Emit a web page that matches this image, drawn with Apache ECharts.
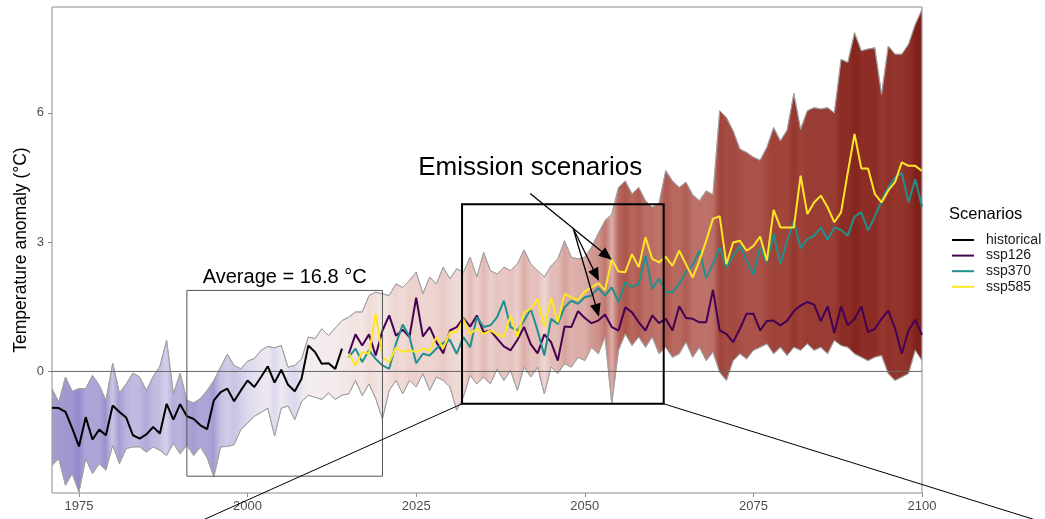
<!DOCTYPE html>
<html><head><meta charset="utf-8">
<script src="https://cdn.jsdelivr.net/npm/echarts@6/dist/echarts.min.js"></script>
<style>html,body{margin:0;padding:0;background:#fff}#c{width:1045px;height:519px}</style>
</head><body><div id="c"></div>
<script>
// ---------- DATA ----------
const histYears = []; for (let y = 1971; y <= 2014; y++) histYears.push(y);
const futureYears = []; for (let y = 2015; y <= 2100; y++) futureYears.push(y);
const allYears = histYears.concat(futureYears);

const historical = [-0.84,-0.85,-0.94,-1.32,-1.74,-1.06,-1.58,-1.35,-1.48,-0.79,
  -0.94,-1.07,-1.48,-1.56,-1.46,-1.29,-1.44,-0.75,-1.12,-0.76,
  -1.04,-1.10,-1.25,-1.34,-0.67,-0.48,-0.40,-0.69,-0.44,-0.21,
  -0.36,-0.13,0.12,-0.26,0.04,-0.31,-0.46,-0.17,0.60,0.45,
  0.18,0.19,0.06,0.53];

const ssp126 = [0.41,0.86,0.60,0.86,0.37,0.95,1.30,0.83,0.97,0.80,
  1.71,0.81,1.03,0.68,0.42,0.95,1.03,1.24,1.04,1.30,
  0.91,0.95,0.76,0.58,0.49,0.73,1.03,0.63,0.42,0.86,
  0.68,0.25,1.04,1.03,1.40,1.24,1.12,1.18,1.32,
  1.03,0.95,1.49,1.37,1.14,0.95,1.30,1.12,1.22,0.95,
  1.51,1.24,1.22,1.14,1.14,1.89,0.95,0.87,0.68,0.99,
  1.34,1.34,0.95,1.17,1.18,1.07,1.18,1.40,1.53,1.61,
  1.55,1.17,1.51,0.89,1.51,1.07,1.22,1.51,0.91,0.99,
  1.22,1.41,1.00,0.41,0.95,1.20,0.85];

const ssp370 = [0.33,0.53,0.22,0.49,0.29,0.14,0.06,0.64,1.09,0.81,
  0.19,0.41,0.37,0.53,0.66,0.73,0.41,0.80,0.56,1.26,
  1.03,1.07,1.26,1.64,1.03,0.95,1.18,1.45,0.95,0.37,
  1.22,1.10,1.49,1.64,1.57,1.72,1.76,1.94,1.76,
  1.95,1.61,2.07,1.96,2.03,2.69,1.92,2.15,1.84,1.84,
  2.03,2.30,2.46,2.80,2.16,2.49,2.88,2.41,2.68,2.92,
  2.57,2.25,2.88,2.53,3.19,2.49,3.03,3.49,2.86,3.07,
  3.15,3.34,3.06,3.34,3.28,3.15,3.59,3.69,3.27,3.59,
  3.96,4.27,4.50,4.60,3.92,4.46,3.82];

const ssp585 = [0.41,0.14,0.45,0.41,1.34,0.33,0.22,0.56,0.45,0.49,
  0.45,0.53,0.47,0.80,0.53,0.91,0.91,1.22,0.87,0.99,
  0.87,0.95,0.86,0.80,1.30,0.80,1.37,1.45,1.68,1.03,
  1.71,1.14,1.80,1.72,1.66,1.85,1.95,2.05,1.88,
  2.60,2.32,2.30,2.72,2.42,3.11,2.61,2.53,2.66,2.45,
  2.80,2.49,2.18,2.57,3.03,3.54,3.60,2.49,2.99,3.03,
  2.80,2.91,3.13,2.57,3.75,3.34,3.34,3.34,4.54,3.65,
  3.92,4.08,3.81,3.46,3.69,4.62,5.51,4.71,4.71,4.12,
  3.92,4.20,4.39,4.85,4.77,4.77,4.65];

const bandHigh = [-0.40,-0.71,-0.13,-0.46,-0.40,-0.40,-0.09,-0.32,-0.67,0.19,
  -0.50,-0.29,-0.04,-0.13,-0.44,-0.12,0.12,0.72,-0.52,-0.04,
  -0.67,-0.73,-0.63,-0.44,-0.21,0.10,0.40,0.14,0.06,0.24,
  0.30,0.49,0.58,0.55,0.60,0.10,0.14,0.29,0.80,0.76,
  0.99,0.83,1.01,1.18,
  1.26,1.38,1.38,1.76,1.84,1.80,1.76,2.03,1.95,2.11,
  2.30,1.80,2.19,2.03,2.42,2.15,2.38,2.30,2.65,2.19,
  2.76,2.34,2.26,2.42,2.34,2.49,2.82,2.49,2.34,2.19,
  2.45,2.61,3.03,2.65,2.61,2.65,2.88,3.20,3.50,
  3.65,4.27,4.42,4.12,4.27,3.96,3.81,3.90,4.66,4.42,
  4.27,4.39,4.10,3.96,4.19,4.10,6.05,5.89,5.58,5.16,
  5.08,4.97,4.90,5.20,5.66,5.35,5.60,6.45,5.62,6.05,
  6.12,6.09,6.12,6.00,7.24,7.17,7.86,7.44,7.48,7.51,
  6.43,7.55,7.36,7.36,7.59,8.05,8.40];

const bandLow = [-2.18,-2.02,-2.64,-2.37,-2.80,-2.02,-2.37,-2.14,-2.29,-1.71,
  -2.14,-1.79,-1.75,-1.75,-1.87,-1.75,-1.83,-1.95,-1.67,-1.91,
  -1.71,-1.95,-1.75,-2.00,-2.45,-1.75,-1.74,-1.70,-1.35,-1.20,
  -1.04,-0.95,-0.85,-1.50,-0.85,-0.80,-1.12,-0.70,-0.55,-0.60,
  -0.65,-0.50,-0.65,-0.55,
  -0.52,-0.21,-0.56,-0.29,-0.63,-1.10,-0.44,-0.21,-0.52,-0.21,
  -0.36,-0.05,-0.44,-0.13,-0.21,-0.36,-0.90,-0.59,-0.09,-0.29,
  -0.13,-0.29,0.06,-0.21,0.02,-0.44,0.10,-0.13,0.10,-0.52,
  0.10,-0.05,0.18,0.10,0.33,0.25,0.56,0.41,0.80,
  -0.75,0.49,0.87,0.60,0.80,0.56,0.80,0.41,0.56,0.33,
  0.41,0.68,0.33,0.56,0.25,0.45,-0.02,-0.21,0.25,0.41,
  0.29,0.49,0.56,0.64,0.41,0.56,0.37,0.56,0.49,0.64,
  0.49,0.56,0.41,0.72,0.60,0.56,0.41,0.33,0.25,0.33,
  0.37,-0.05,-0.21,-0.13,-0.05,0.49,0.25];

const xTicks = [1975, 2000, 2025, 2050, 2075, 2100];
const yTicks = [0, 3, 6];
const seriesNames = ['historical', 'ssp126', 'ssp370', 'ssp585'];

// ---------- STYLE ----------
const seriesColors = { historical: '#000000', ssp126: '#440154', ssp370: '#21908C', ssp585: '#FDE725' };
const FONT = '"Liberation Sans", Arial, Helvetica, sans-serif';
const fillScale = [[-1.6,[148,136,202]],[-0.5,[220,216,238]],[0,[244,239,241]],[0.5,[243,228,226]],
  [1.0,[236,208,204]],[1.5,[218,170,164]],[2.0,[198,130,122]],[2.5,[178,94,85]],[3.0,[160,68,58]],
  [4.0,[138,42,35]],[4.4,[124,28,24]]];
function fillColor(m) {
  if (m <= fillScale[0][0]) return 'rgb(' + fillScale[0][1].join(',') + ')';
  for (let i = 1; i < fillScale.length; i++) {
    if (m <= fillScale[i][0]) {
      const a = fillScale[i-1], b = fillScale[i];
      const t = (m - a[0]) / (b[0] - a[0]);
      const c = a[1].map((v, k) => Math.round(v + (b[1][k] - v) * t));
      return 'rgb(' + c.join(',') + ')';
    }
  }
  return 'rgb(' + fillScale[fillScale.length-1][1].join(',') + ')';
}

const chart = echarts.init(document.getElementById('c'), null, { renderer: 'canvas' });

function lineSeries(name, years, vals) {
  return {
    type: 'line', name: name, data: years.map((y, i) => [y, vals[i]]),
    showSymbol: false, symbol: 'none', z: 3, silent: true,
    lineStyle: { color: seriesColors[name], width: 2 }, itemStyle: { color: seriesColors[name] }
  };
}

const option = {
  animation: false,
  backgroundColor: '#ffffff',
  grid: { left: 52, right: 123, top: 7, bottom: 26, show: true, borderColor: '#8c8c8c', borderWidth: 1,
          containLabel: false, outerBoundsMode: 'none' },
  xAxis: {
    type: 'value', min: 1971, max: 2100,
    axisLine: { show: false, onZero: false }, splitLine: { show: false },
    axisTick: { show: true, length: 4, lineStyle: { color: '#8c8c8c' }, customValues: xTicks },
    axisLabel: { customValues: xTicks, color: '#4d4d4d', fontSize: 13, fontFamily: FONT, margin: 7,
                 formatter: v => String(v) }
  },
  yAxis: {
    type: 'value', min: -2.82, max: 8.455,
    axisLine: { show: false, onZero: false }, splitLine: { show: false },
    axisTick: { show: true, length: 4, lineStyle: { color: '#8c8c8c' }, customValues: yTicks },
    axisLabel: { customValues: yTicks, color: '#4d4d4d', fontSize: 13, fontFamily: FONT, margin: 8,
                 formatter: v => String(v) }
  },
  series: [
    {
      type: 'custom', name: 'band', z: 1, clip: true, silent: true,
      data: [[allYears[0], 0]],
      renderItem: function (params, api) {
        const pts = [];
        for (let i = 0; i < allYears.length; i++) pts.push(api.coord([allYears[i], bandHigh[i]]));
        for (let i = allYears.length - 1; i >= 0; i--) pts.push(api.coord([allYears[i], bandLow[i]]));
        const y0 = allYears[0], y1 = allYears[allYears.length - 1];
        const stops = allYears.map((y, i) => ({ offset: (y - y0) / (y1 - y0), color: fillColor((bandLow[i] + bandHigh[i]) / 2) }));
        return { type: 'polygon', shape: { points: pts },
          style: { fill: new echarts.graphic.LinearGradient(0, 0, 1, 0, stops), stroke: 'rgba(160,160,160,0.9)', lineWidth: 1 } };
      }
    },
    { type: 'line', name: 'zero', data: [[1971, 0], [2100, 0]], showSymbol: false, symbol: 'none', z: 2, silent: true,
      lineStyle: { color: '#666666', width: 1 } },
    lineSeries('historical', histYears, historical),
    lineSeries('ssp126', futureYears, ssp126),
    lineSeries('ssp370', futureYears, ssp370),
    lineSeries('ssp585', futureYears, ssp585)
  ]
};
chart.setOption(option);

// ---------- ANNOTATIONS (positions in data units) ----------
const anno = {
  avgBox: [[1991, 1.88], [2020, -2.43]],
  zoomBox: [[2031.8, 3.88], [2061.7, -0.75]],
  zoomLineL: [[2031.8, -0.75], [1991.2, -3.60]],
  zoomLineR: [[2061.7, -0.75], [2120.0, -3.60]],
  avgText: [2005.5, 2.19],
  emisText: [2041.9, 4.72],
  arrowStart: [2041.9, 4.13], arrowTip1: [2054.0, 2.59],
  arrowJunction: [2048.3, 3.31], arrowTip2: [2052.1, 2.10], arrowTip3: [2052.1, 1.27]
};
const P = p => chart.convertToPixel({ gridIndex: 0 }, p);
const g = [];
function rectFrom(a, b, color, w) {
  const p1 = P(a), p2 = P(b);
  g.push({ type: 'rect', z: 50, silent: true,
    shape: { x: Math.min(p1[0], p2[0]), y: Math.min(p1[1], p2[1]), width: Math.abs(p2[0]-p1[0]), height: Math.abs(p2[1]-p1[1]) },
    style: { fill: null, stroke: color, lineWidth: w } });
}
function lineFrom(a, b, color, w) {
  const p1 = P(a), p2 = P(b);
  g.push({ type: 'line', z: 50, silent: true, shape: { x1: p1[0], y1: p1[1], x2: p2[0], y2: p2[1] }, style: { stroke: color, lineWidth: w } });
}
function arrow(a, b) {
  const s = P(a), t = P(b);
  const dx = t[0] - s[0], dy = t[1] - s[1], L = Math.hypot(dx, dy);
  const ux = dx / L, uy = dy / L, len = 13, hw = 5.5;
  const bx = t[0] - ux * len, by = t[1] - uy * len;
  g.push({ type: 'line', z: 51, silent: true, shape: { x1: s[0], y1: s[1], x2: bx, y2: by }, style: { stroke: '#000', lineWidth: 1.3 } });
  g.push({ type: 'polygon', z: 51, silent: true,
    shape: { points: [[t[0], t[1]], [bx - uy * hw, by + ux * hw], [bx + uy * hw, by - ux * hw]] }, style: { fill: '#000' } });
}
rectFrom(anno.avgBox[0], anno.avgBox[1], '#555555', 1);
rectFrom(anno.zoomBox[0], anno.zoomBox[1], '#000000', 2);
lineFrom(anno.zoomLineL[0], anno.zoomLineL[1], '#000000', 1);
lineFrom(anno.zoomLineR[0], anno.zoomLineR[1], '#000000', 1);
arrow(anno.arrowStart, anno.arrowTip1);
arrow(anno.arrowJunction, anno.arrowTip2);
arrow(anno.arrowJunction, anno.arrowTip3);
const at = P(anno.avgText), et = P(anno.emisText);
g.push({ type: 'text', z: 52, silent: true, x: at[0], y: at[1],
  style: { text: 'Average = 16.8 °C', font: '20px ' + FONT, fill: '#000', textAlign: 'center', textVerticalAlign: 'middle' } });
g.push({ type: 'text', z: 52, silent: true, x: et[0], y: et[1],
  style: { text: 'Emission scenarios', font: '26px ' + FONT, fill: '#000', textAlign: 'center', textVerticalAlign: 'middle' } });
// y axis title
g.push({ type: 'text', z: 52, silent: true, x: 21, y: 250, rotation: Math.PI / 2,
  style: { text: 'Temperature anomaly (°C)', font: '17.5px ' + FONT, fill: '#000', textAlign: 'center', textVerticalAlign: 'middle' } });
// legend
g.push({ type: 'text', z: 52, silent: true, x: 949, y: 214,
  style: { text: 'Scenarios', font: '16.5px ' + FONT, fill: '#000', textAlign: 'left', textVerticalAlign: 'middle' } });
seriesNames.forEach((n, i) => {
  const yy = 240 + i * 15.6;
  g.push({ type: 'line', z: 52, silent: true, shape: { x1: 952, y1: yy, x2: 974, y2: yy }, style: { stroke: seriesColors[n], lineWidth: 2 } });
  g.push({ type: 'text', z: 52, silent: true, x: 986, y: yy,
    style: { text: n, font: '14px ' + FONT, fill: '#1a1a1a', textAlign: 'left', textVerticalAlign: 'middle' } });
});
chart.setOption({ graphic: g });
</script></body></html>
